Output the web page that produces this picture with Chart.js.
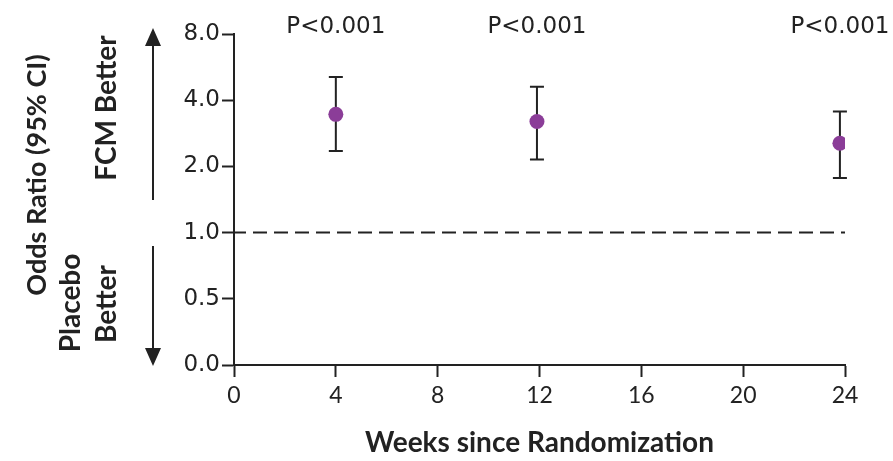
<!DOCTYPE html>
<html>
<head>
<meta charset="utf-8">
<script src="https://cdn.jsdelivr.net/npm/chart.js@4.4.1/dist/chart.umd.min.js"></script>
<style>
  html, body { margin: 0; padding: 0; background: #ffffff; }
  #wrap { width: 893px; height: 461px; }
</style>
</head>
<body>
<div id="wrap"><canvas id="oddsChart" width="893" height="461"></canvas></div>
<script>
// Data
const weeks = [4, 11.9, 23.8];
const oddsRatio = [3.45, 3.2, 2.55];
const ciLow = [2.35, 2.15, 1.77];
const ciHigh = [5.1, 4.6, 3.55];
const pLabels = ['P<0.001', 'P<0.001', 'P<0.001'];

// y axis is drawn with equal spacing between these labels
const yTickLabels = ['0.0', '0.5', '1.0', '2.0', '4.0', '8.0'];
const xTickValues = [0, 4, 8, 12, 16, 20, 24];
const referenceOR = 1.0;

// odds ratio -> position on the evenly spaced y scale (0.5 -> 1, 1 -> 2, 2 -> 3 ...)
function toPos(v) {
    if (v <= 0) return 0;
    return Math.log2(v) + 2;
}

var points = weeks.map((w, i) => ({ x: w, y: toPos(oddsRatio[i]) }));
var refLine = [
    { x: xTickValues[0], y: toPos(referenceOR) },
    { x: xTickValues[xTickValues.length - 1], y: toPos(referenceOR) }
];

const ink = '#222222';
const purple = '#8b3d98';

// whiskers for the 95% CI, drawn behind the points
const errorBars = {
    id: 'errorBars',
    beforeDatasetsDraw(chart) {
        const c = chart.ctx;
        const xs = chart.scales.x, ys = chart.scales.y;
        c.save();
        c.strokeStyle = ink;
        c.lineWidth = 2;
        weeks.forEach((w, i) => {
            const px = xs.getPixelForValue(w);
            const top = ys.getPixelForValue(toPos(ciHigh[i]));
            const bot = ys.getPixelForValue(toPos(ciLow[i]));
            c.beginPath();
            c.moveTo(px, top); c.lineTo(px, bot);
            c.moveTo(px - 7, top); c.lineTo(px + 7, top);
            c.moveTo(px - 7, bot); c.lineTo(px + 7, bot);
            c.stroke();
        });
        c.restore();
    }
};

// P values above each point, and the side labels with arrows
const annotations = {
    id: 'annotations',
    afterDraw(chart) {
        const c = chart.ctx;
        const xs = chart.scales.x;
        c.save();
        c.fillStyle = ink;
        c.font = '23px "DejaVu Sans"';
        c.textAlign = 'center';
        c.textBaseline = 'middle';
        weeks.forEach((w, i) => {
            c.fillText(pLabels[i], xs.getPixelForValue(w), 27);
        });

        function vtext(t, x, y) {
            c.save();
            c.translate(x, y);
            c.rotate(-Math.PI / 2);
            c.fillText(t, 0, 0);
            c.restore();
        }
        c.font = 'bold 27px Lato';
        vtext('Odds Ratio (95% CI)', 37, 175);
        c.font = 'bold 28px Lato';
        vtext('FCM Better', 107, 108);
        vtext('Placebo', 71, 303);
        vtext('Better', 107, 304);

        // arrows
        c.strokeStyle = ink;
        c.lineWidth = 2;
        c.beginPath();
        c.moveTo(153, 200); c.lineTo(153, 40);
        c.moveTo(153, 246); c.lineTo(153, 354);
        c.stroke();
        c.beginPath();
        c.moveTo(153, 28); c.lineTo(145, 46); c.lineTo(161, 46); c.closePath();
        c.moveTo(153, 366); c.lineTo(145, 348); c.lineTo(161, 348); c.closePath();
        c.fill();
        c.restore();
    }
};

const ctx = document.getElementById('oddsChart').getContext('2d');

const odds_chart = new Chart(ctx, {
    type: 'scatter',
    data: {
        datasets: [{
            type: 'line',
            data: refLine,
            borderColor: ink,
            borderWidth: 2,
            borderDash: [14, 7],
            borderDashOffset: 2,
            pointRadius: 0,
            fill: false
        }, {
            data: points,
            pointRadius: 7.5,
            pointHoverRadius: 7.5,
            pointBackgroundColor: purple,
            pointBorderWidth: 0,
            backgroundColor: purple
        }]
    },
    options: {
        responsive: false,
        animation: false,
        events: [],
        layout: { padding: { top: 34, right: 48, left: 0, bottom: 0 } },
        plugins: {
            legend: { display: false },
            tooltip: { enabled: false }
        },
        scales: {
            x: {
                type: 'linear',
                min: xTickValues[0],
                max: xTickValues[xTickValues.length - 1],
                afterBuildTicks: scale => {
                    scale.ticks = xTickValues.map(v => ({ value: v }));
                },
                afterFit: scale => { scale.height = 96; },
                border: { display: true, color: ink, width: 2 },
                grid: {
                    drawOnChartArea: false,
                    drawTicks: true,
                    tickLength: 12,
                    tickWidth: 2,
                    tickColor: ink
                },
                ticks: {
                    color: ink,
                    padding: 5,
                    font: { family: 'Lato', size: 23 },
                    maxRotation: 0,
                    autoSkip: false
                },
                title: {
                    display: true,
                    text: 'Weeks since Randomization',
                    color: ink,
                    font: { family: 'Lato', size: 28, weight: 'bold' },
                    padding: { top: 0, bottom: 1 }
                }
            },
            y: {
                type: 'linear',
                min: 0,
                max: yTickLabels.length - 1,
                afterFit: scale => { scale.width = 234; },
                border: { display: true, color: ink, width: 2 },
                grid: {
                    drawOnChartArea: false,
                    drawTicks: true,
                    tickLength: 12,
                    tickWidth: 2,
                    tickColor: ink
                },
                ticks: {
                    stepSize: 1,
                    color: ink,
                    padding: 2,
                    font: { family: 'DejaVu Sans', size: 23 },
                    callback: v => yTickLabels[v]
                }
            }
        }
    },
    plugins: [errorBars, annotations]
});
</script>
</body>
</html>
